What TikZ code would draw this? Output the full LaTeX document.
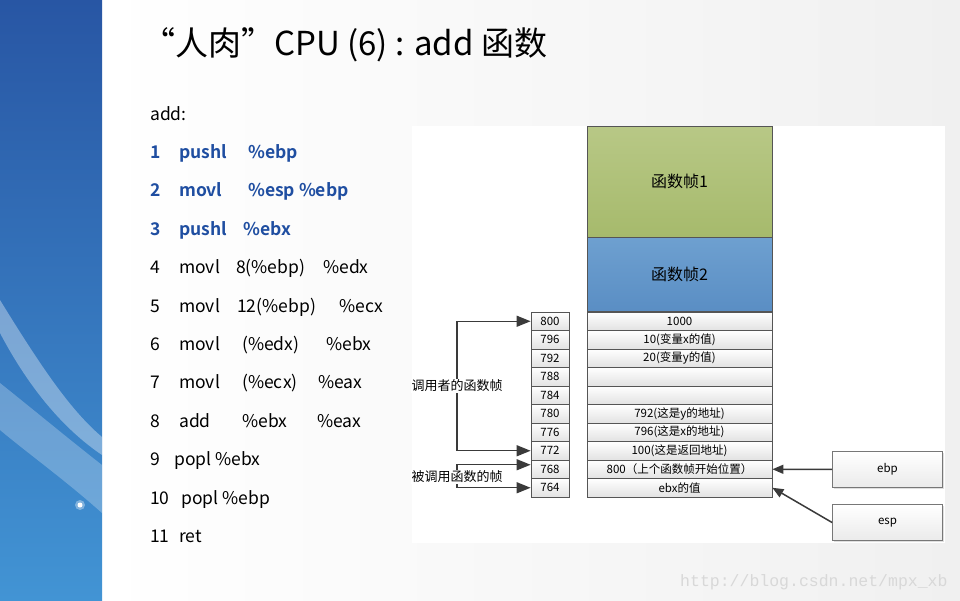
\documentclass[tikz,border=0pt]{standalone}
\usepackage{fontspec}
\setmainfont{Noto Sans CJK SC}[BoldFont={Noto Sans CJK SC Bold}]
\setmonofont{Liberation Mono}
\usetikzlibrary{arrows.meta,shadows}

\definecolor{bandtop}{RGB}{40,86,164}
\definecolor{bandbot}{RGB}{66,148,212}
\definecolor{codeblue}{RGB}{31,78,161}
\definecolor{framegreen}{RGB}{166,186,108}
\definecolor{framegreenhi}{RGB}{184,200,134}
\definecolor{frameblue}{RGB}{90,142,196}
\definecolor{framebluehi}{RGB}{110,160,208}
\definecolor{rowgray}{RGB}{226,226,226}
\definecolor{lineclr}{RGB}{85,85,85}
\definecolor{arrowclr}{RGB}{58,58,58}
\definecolor{pagegray}{RGB}{240,240,240}
\definecolor{markgray}{RGB}{216,216,216}

\newcommand\col[2]{\makebox[#1pt][l]{#2}}

\tikzset{
  cell/.style={draw=lineclr, line width=0.8pt, top color=white, bottom color=rowgray,
    inner sep=0pt, minimum height=18.5pt, font=\fontsize{11.5}{13}\selectfont},
  adrcell/.style={cell, minimum width=38pt},
  valcell/.style={cell, minimum width=185pt},
  stackframe/.style={draw=lineclr, line width=0.8pt, minimum width=185pt, inner sep=0pt,
    font=\fontsize{16}{18}\selectfont},
  regbox/.style={draw=lineclr!80, line width=0.8pt, top color=white, bottom color=rowgray!70,
    minimum width=110pt, minimum height=36pt, font=\fontsize{11.5}{13}\selectfont,
    drop shadow={shadow xshift=1.5pt, shadow yshift=-1.5pt, opacity=0.25}},
  sidelbl/.style={fill=white, inner sep=1pt, font=\fontsize{13}{15}\selectfont},
  ptr/.style={draw=arrowclr, line width=1.3pt, -{Triangle[length=14pt,width=11pt]}},
  regptr/.style={draw=arrowclr, line width=1.5pt, -{Triangle[length=11pt,width=9pt]}},
  code/.style={anchor=base west, inner sep=0pt, font=\fontsize{17.5}{20}\selectfont},
  codehi/.style={code, text=codeblue, font=\fontsize{17.5}{20}\selectfont\bfseries},
}

\begin{document}
\begin{tikzpicture}[x=1pt,y=-1pt]
\useasboundingbox (0,0) rectangle (960,600);
% slide background
\shade[left color=white, right color=pagegray] (102,0) rectangle (960,600);
\shade[top color=bandtop, bottom color=bandbot] (0,0) rectangle (102,600);
\fill[white, opacity=0.35] (0,300) .. controls (40,365) and (70,410) .. (102,437)
  -- (102,455) .. controls (65,430) and (30,390) .. (0,333) -- cycle;
\fill[white, opacity=0.25] (0,383) .. controls (40,415) and (70,440) .. (102,465)
  -- (102,513) .. controls (65,480) and (30,455) .. (0,430) -- cycle;
\fill[white, opacity=0.35] (80,505) circle (5);
\fill[white] (80,505) circle (2.5);

% title
\node[anchor=base west, inner sep=0pt, font=\fontsize{33}{38}\selectfont] (title) at (142,55) {“人肉”CPU (6) : add 函数};

% assembly listing
\node[code] (ln0) at (150,120) {add:};
\node[codehi] (ln1) at (150,158.4) {\col{29}{1}\col{69}{pushl}\%ebp};
\node[codehi] (ln2) at (150,196.8) {\col{29}{2}\col{69}{movl}\%esp \%ebp};
\node[codehi] (ln3) at (150,235.2) {\col{29}{3}\col{64}{pushl}\%ebx};
\node[code] (ln4) at (150,273.6) {\col{29}{4}\col{57}{movl}\col{87}{8(\%ebp)}\%edx};
\node[code] (ln5) at (150,312) {\col{29}{5}\col{58}{movl}\col{102}{12(\%ebp)}\%ecx};
\node[code] (ln6) at (150,350.4) {\col{29}{6}\col{63}{movl}\col{84}{(\%edx)}\%ebx};
\node[code] (ln7) at (150,388.8) {\col{29}{7}\col{63}{movl}\col{76}{(\%ecx)}\%eax};
\node[code] (ln8) at (150,427.2) {\col{29}{8}\col{63}{add}\col{75}{\%ebx}\%eax};
\node[code] (ln9) at (150,465.6) {\col{24}{9}popl \%ebx};
\node[code] (ln10) at (150,504) {\col{31}{10}popl \%ebp};
\node[code] (ln11) at (150,542.4) {\col{29}{11}ret};

% stack diagram
\fill[white] (412,126) rectangle (945,543);
\node[stackframe, top color=framegreenhi, bottom color=framegreen, minimum height=111pt] (f1) at (679.5,181.5) {函数帧1};
\node[stackframe, top color=framebluehi, bottom color=frameblue, minimum height=74pt] (f2) at (679.5,274) {函数帧2};
\foreach \adr/\val [count=\i from 0] in {800/1000, 796/{10(变量x的值)}, 792/{20(变量y的值)},
    788/{}, 784/{}, 780/{792(这是y的地址)}, 776/{796(这是x的地址)},
    772/{100(这是返回地址)}, 768/{800（上个函数帧开始位置）}, 764/{ebx的值}} {
  \node[adrcell] (a\i) at (550,321.25+18.5*\i) {\adr};
  \node[valcell] (s\i) at (679.5,321.25+18.5*\i) {\val};
}

\node[sidelbl] (caller) at (457,386) {调用者的函数帧};
\node[sidelbl] (callee) at (457,477) {被调用函数的帧};
\draw[ptr] (caller.north) |- (a0.west);
\draw[ptr] (caller.south) |- (a7.west);
\draw[ptr] (callee.north) |- ([yshift=4.5pt]a8.west);
\draw[ptr] (callee.south) |- (a9.west);

\node[regbox] (ebp) at (887.5,469.5) {ebp};
\node[regbox] (esp) at (887.5,522.5) {esp};
\draw[regptr] (ebp) -- (s8.east);
\draw[regptr] (esp.west) -- (s9.east);

% watermark
\node[anchor=base west, inner sep=0pt, text=markgray, font=\ttfamily\fontsize{16.5}{18}\selectfont] (mark) at (680,586) {http://blog.csdn.net/mpx\_xb};
\end{tikzpicture}
\end{document}
